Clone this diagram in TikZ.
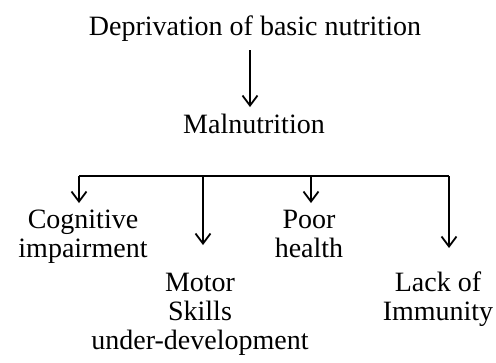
\documentclass[tikz,border=0pt]{standalone}
\usepackage{fontspec}
\setmainfont{Liberation Serif}
\usetikzlibrary{arrows.meta}
\begin{document}
\begin{tikzpicture}[x=1pt,y=-1pt,
  lbl/.style={inner sep=0pt,anchor=north,align=center,
    font=\fontsize{28}{29}\selectfont},
  link/.style={line width=1.8pt},
  arr/.style={link,-{Straight Barb[length=10pt,width=15pt,line width=1.8pt]}}]
\useasboundingbox (0,0) rectangle (496,362);

% text nodes
\node[lbl] (dep) at (255,16) {Deprivation of basic nutrition};
\node[lbl] (mal) at (254,114) {Malnutrition};
\node[lbl] (cog) at (83,210) {Cognitive\\impairment};
\node[lbl] (mot) at (200,273) {Motor\\Skills\\under-development};
\node[lbl] (poor) at (309,210) {Poor\\health};
\node[lbl] (lack) at (438,272) {Lack of\\Immunity};

% vertical axis of the top arrow
\coordinate (ax) at (250,0);

% branch bar
\coordinate (b1) at (79,176);
\coordinate (b2) at (203,176);
\coordinate (b3) at (311,176);
\coordinate (b4) at (449,176);
\draw[link] (b1) -- (b4);

% top arrow
\draw[arr,shorten <=8pt,shorten >=7pt] (dep.south -| ax) -- (mal.north -| ax);

% branch arrows
\draw[arr,shorten >=7pt] (b1) -- (b1 |- cog.north);
\draw[arr,shorten >=28pt] (b2) -- (b2 |- mot.north);
\draw[arr,shorten >=7pt] (b3) -- (b3 |- poor.north);
\draw[arr,shorten >=24pt] (b4) -- (b4 |- lack.north);
\end{tikzpicture}
\end{document}
